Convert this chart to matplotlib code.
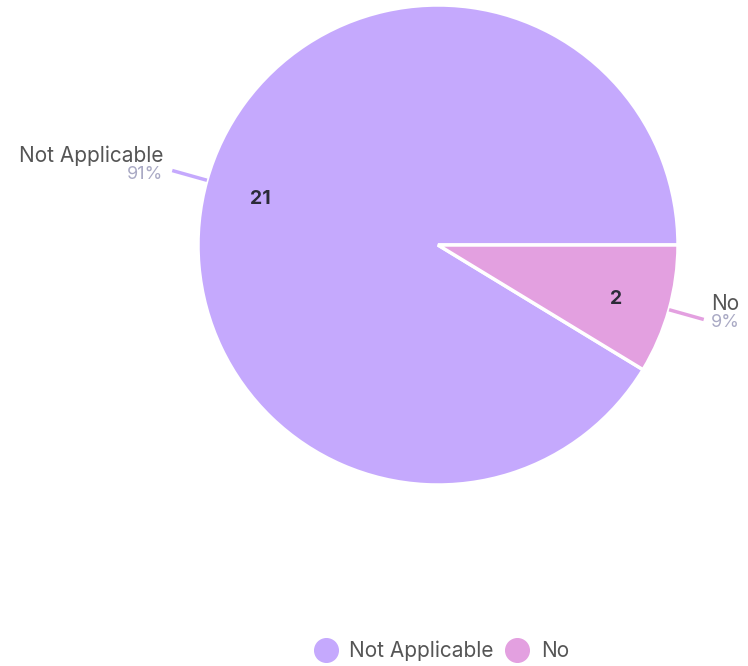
import numpy as np
import matplotlib
matplotlib.use("Agg")
import matplotlib.pyplot as plt
from matplotlib.lines import Line2D

labels = ["Not Applicable", "No"]
counts = [21, 2]
colors = ["#c5a9fd", "#e3a0e0"]

plt.rcParams['font.family'] = ['Inter', 'DejaVu Sans']

W, H = 748, 666
fig = plt.figure(figsize=(W / 100, H / 100), dpi=100)
ax = fig.add_axes([0, 0, 1, 1])

cx, cy, R = 438, H - 245, 240
total = sum(counts)

wedges, _, autotexts = ax.pie(
    counts, colors=colors, startangle=0, counterclock=True,
    center=(cx, cy), radius=R, frame=True,
    autopct=lambda p: f"{round(p * total / 100)}", pctdistance=0.77,
    wedgeprops=dict(edgecolor='white', linewidth=2.5),
    textprops=dict(fontsize=14, fontweight='bold', color='#2b2b38'))
for t in autotexts:
    x, y = t.get_position()
    t.set_position((x, y - 4))
ax.set_xlim(0, W)
ax.set_ylim(0, H)
ax.set_aspect('equal')
ax.axis('off')

for w, lab, c, n in zip(wedges, labels, colors, counts):
    ang = np.deg2rad((w.theta1 + w.theta2) / 2)
    ux, uy = np.cos(ang), np.sin(ang)
    x0, y0 = cx + R * ux, cy + R * uy
    x1, y1 = cx + (R + 36) * ux, cy + (R + 36) * uy
    ax.plot([x0, x1], [y0, y1], color=c, lw=2.5, solid_capstyle='butt')
    pct = f"{round(100 * n / total)}%"
    if ux < 0:
        tx, ha = x1 - 9, 'right'
    else:
        tx, ha = x1 + 7, 'left'
    ax.text(tx, y1 + 5, lab, ha=ha, va='bottom', fontsize=15, color='#555555')
    ax.text(tx, y1 + 5, pct, ha=ha, va='top', fontsize=13, color='#a9a9c4')

handles = [Line2D([], [], marker='o', ls='', markersize=17, markerfacecolor=c,
                  markeredgecolor=c) for c in colors]
fig.legend(handles, labels, loc='center', bbox_to_anchor=(0.584, 1 - 651 / H),
           ncol=2, frameon=False, fontsize=15, labelcolor='#555555',
           handletextpad=0.15, columnspacing=0.1)

fig.savefig("out.png", dpi=100, facecolor='white')
